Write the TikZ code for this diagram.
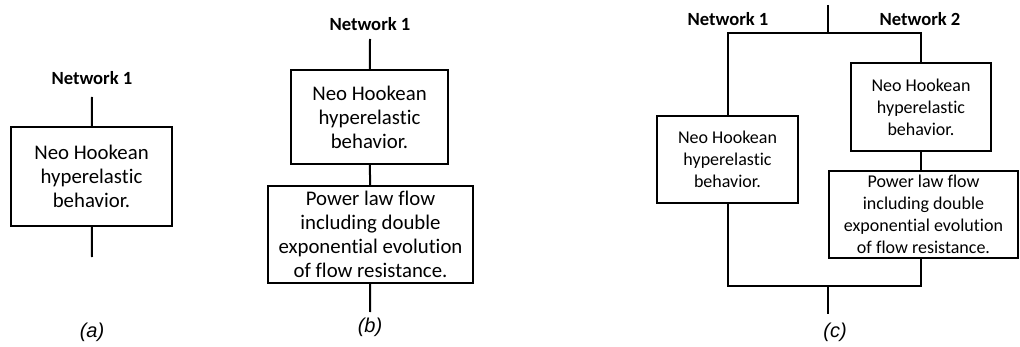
\documentclass[tikz,border=0pt]{standalone}
\usepackage{fontspec}
\setmainfont{Carlito}[Ligatures={NoCommon,NoContextual}]
\newfontfamily\capfont{Liberation Sans}
\usepackage{tikz}

\tikzset{
  blk/.style={draw,line width=1.1pt,align=center,inner sep=0pt,font=\fontsize{10.4}{12}\selectfont},
  blksm/.style={blk,font=\fontsize{9}{11}\selectfont},
  netlbl/.style={font=\fontsize{9.3}{11}\selectfont\bfseries},
  caplbl/.style={font=\capfont\itshape\fontsize{10}{12}\selectfont},
  wire/.style={line width=1pt}
}

\begin{document}
\begin{tikzpicture}[x=0.5pt,y=-0.5pt]
\useasboundingbox (0,0) rectangle (1020,347);

%(a) one network
\node[netlbl] (neta) at (92,78) {Network 1};
\coordinate (ta) at (92,97);\coordinate (ba) at (92,257);
\node[blk,minimum width=80.5pt,minimum height=49.5pt] (hka) at (91.5,176.5) {Neo Hookean\\hyperelastic\\behavior.};
\draw[wire] (ta) -- (hka);\draw[wire] (hka) -- (ba);
\node[caplbl] (capa) at (92,332) {(a)};

%(b) network with flow
\node[netlbl] (netb) at (370,24) {Network 1};
\coordinate (tb) at (370,39);\coordinate (bb) at (370,312);
\node[blk,minimum width=78.5pt,minimum height=47pt] (hkb) at (369.5,117) {Neo Hookean\\hyperelastic\\behavior.};
\node[blk,minimum width=102.5pt,minimum height=48.5pt] (flb) at (370.5,234.5) {Power law flow\\including double\\exponential evolution\\of flow resistance.};
\draw[wire] (tb) -- (hkb);\draw[wire] (hkb) -- (flb);\draw[wire] (flb) -- (bb);
\node[caplbl] (capb) at (370,327) {(b)};

%(c) two networks in parallel
\node[netlbl] (netc1) at (728,19) {Network 1};
\node[netlbl] (netc2) at (920,19) {Network 2};
\coordinate (tc) at (828,5);\coordinate (jt) at (828,33);
\coordinate (jb) at (828,286);\coordinate (bc) at (828,314);
\node[blksm,minimum width=70.5pt,minimum height=43.5pt] (hkc1) at (727.5,159.5) {Neo Hookean\\hyperelastic\\behavior.};
\node[blksm,minimum width=70pt,minimum height=44pt] (hkc2) at (921,107) {Neo Hookean\\hyperelastic\\behavior.};
\node[blksm,minimum width=94.5pt,minimum height=43.5pt] (flc) at (923.5,214.5) {Power law flow\\including double\\exponential evolution\\of flow resistance.};
\draw[wire] (tc) -- (jt);
\draw[wire] (hkc1.north) |- (jt) -| (hkc2.north);
\draw[wire] (hkc2) -- (hkc2|-flc.north);
\draw[wire] (hkc1.south) |- (jb) -| (hkc2|-flc.south);
\draw[wire] (jb) -- (bc);
\node[caplbl] (capc) at (835,332) {(c)};
\end{tikzpicture}
\end{document}
